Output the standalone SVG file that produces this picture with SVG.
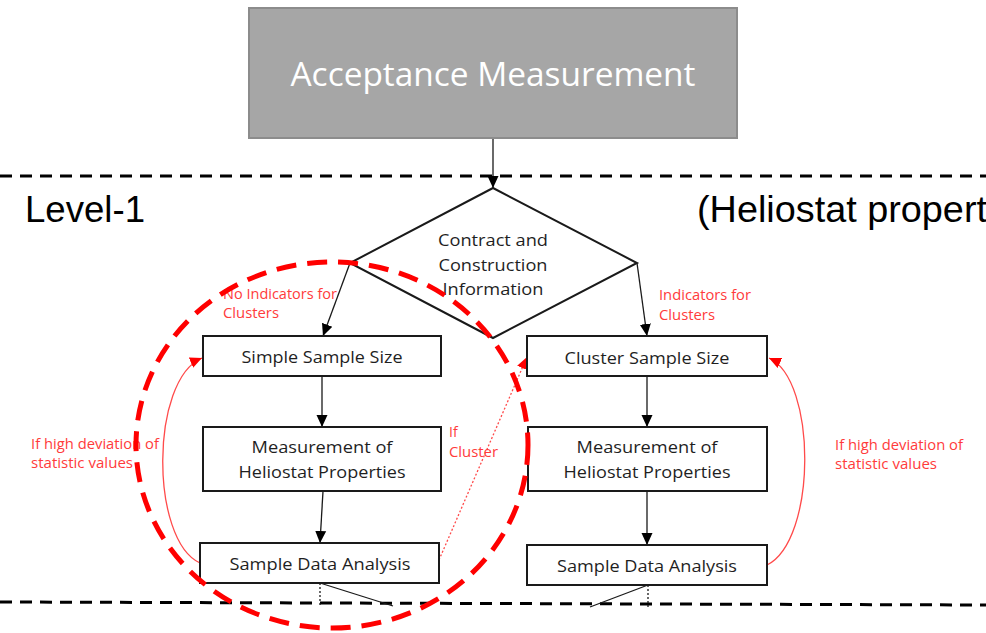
<svg xmlns="http://www.w3.org/2000/svg" width="986" height="633" viewBox="0 0 986 633">
<style>
.box{fill:#fff;stroke:#1a1a1a;stroke-width:2}
.t{font-family:"Open Sans","Noto Sans","Liberation Sans",sans-serif;font-size:17px;fill:#1f1f1f;text-anchor:middle}
.r{font-family:"Open Sans","Noto Sans","Liberation Sans",sans-serif;font-size:14px;fill:#ff3b3b}
.lvl{font-family:"Liberation Sans",Arial,sans-serif;font-size:36px;fill:#000}
.sep{stroke:#000;stroke-width:3;stroke-dasharray:12 8;fill:none}
.c{stroke:#1a1a1a;stroke-width:1.3;fill:none}
.fb{stroke:#ff4a4a;stroke-width:1.3;fill:none}
</style>
<defs>
<marker id="ab" markerUnits="userSpaceOnUse" viewBox="0 0 12 12" refX="12" refY="6" markerWidth="12" markerHeight="12" orient="auto">
<path d="M0,0.5 L12,6 L0,11.5 z" fill="#000"/>
</marker>
<marker id="ar" markerUnits="userSpaceOnUse" viewBox="0 0 12 12" refX="12" refY="6" markerWidth="12" markerHeight="12" orient="auto">
<path d="M0,0.5 L12,6 L0,11.5 z" fill="#f00"/>
</marker>
</defs>

<!-- level separators -->
<line class="sep" x1="0" y1="176" x2="986" y2="176"/>
<line class="sep" x1="0" y1="602" x2="986" y2="605"/>
<text class="lvl" x="25" y="222" textLength="120" lengthAdjust="spacingAndGlyphs">Level-1</text>
<text class="lvl" x="697" y="222" textLength="290" lengthAdjust="spacingAndGlyphs">(Heliostat propert</text>

<g id="connectors">
<line class="c" x1="493" y1="138" x2="493" y2="188" marker-end="url(#ab)"/>
<line class="c" x1="350" y1="263" x2="323" y2="336" marker-end="url(#ab)"/>
<line class="c" x1="637" y1="263" x2="647" y2="336" marker-end="url(#ab)"/>
<line class="c" x1="322" y1="376" x2="322" y2="427" marker-end="url(#ab)"/>
<line class="c" x1="323" y1="491" x2="320" y2="543" marker-end="url(#ab)"/>
<line class="c" x1="647" y1="376" x2="647" y2="427" marker-end="url(#ab)"/>
<line class="c" x1="647" y1="491" x2="647" y2="545" marker-end="url(#ab)"/>
<line class="c" x1="320" y1="583" x2="320" y2="607" stroke-dasharray="2 2"/>
<line class="c" x1="320" y1="583" x2="393" y2="606"/>
<line class="c" x1="648" y1="585" x2="648" y2="608" stroke-dasharray="2 2"/>
<line class="c" x1="648" y1="585" x2="590" y2="607"/>
<path class="fb" d="M200,563 C150,540 150,380 202,358" marker-end="url(#ar)"/>
<path class="fb" d="M767,565 C817,540 817,380 769,358" marker-end="url(#ar)"/>
<line class="fb" x1="439" y1="560" x2="527" y2="357" stroke-dasharray="2 2" stroke-width="1" marker-end="url(#ar)"/>
</g>

<g id="acceptance">
<rect x="249" y="8" width="488" height="130" fill="#a6a6a6" stroke="#8c8c8c" stroke-width="2"/>
<text x="493" y="86" font-family="'Open Sans','Noto Sans',sans-serif" font-size="33" fill="#fff" text-anchor="middle" textLength="405" lengthAdjust="spacingAndGlyphs">Acceptance Measurement</text>
</g>

<g id="decision">
<polygon points="493,188 637,263 493,338 350,263" fill="#fff" stroke="#1a1a1a" stroke-width="2"/>
<text class="t" x="493" y="246" textLength="110" lengthAdjust="spacingAndGlyphs">Contract and</text>
<text class="t" x="493" y="271" textLength="109" lengthAdjust="spacingAndGlyphs">Construction</text>
<text class="t" x="493" y="295" textLength="101" lengthAdjust="spacingAndGlyphs">Information</text>
</g>

<g id="simple-sample">
<rect class="box" x="203" y="336" width="238" height="40"/>
<text class="t" x="322" y="363" textLength="161" lengthAdjust="spacingAndGlyphs">Simple Sample Size</text>
</g>
<g id="cluster-sample">
<rect class="box" x="527" y="336" width="240" height="40"/>
<text class="t" x="647" y="364" textLength="165" lengthAdjust="spacingAndGlyphs">Cluster Sample Size</text>
</g>
<g id="measure-left">
<rect class="box" x="203" y="427" width="238" height="64"/>
<text class="t" x="322" y="453" textLength="141" lengthAdjust="spacingAndGlyphs">Measurement of</text>
<text class="t" x="322" y="478" textLength="167" lengthAdjust="spacingAndGlyphs">Heliostat Properties</text>
</g>
<g id="measure-right">
<rect class="box" x="528" y="427" width="239" height="64"/>
<text class="t" x="647" y="453" textLength="141" lengthAdjust="spacingAndGlyphs">Measurement of</text>
<text class="t" x="647" y="478" textLength="167" lengthAdjust="spacingAndGlyphs">Heliostat Properties</text>
</g>
<g id="analysis-left">
<rect class="box" x="200" y="543" width="239" height="40"/>
<text class="t" x="320" y="570" textLength="181" lengthAdjust="spacingAndGlyphs">Sample Data Analysis</text>
</g>
<g id="analysis-right">
<rect class="box" x="527" y="545" width="240" height="40"/>
<text class="t" x="647" y="572" textLength="180" lengthAdjust="spacingAndGlyphs">Sample Data Analysis</text>
</g>

<g id="labels">
<text class="r" x="223" y="299" textLength="114" lengthAdjust="spacingAndGlyphs">No Indicators for</text>
<text class="r" x="223" y="318" textLength="56" lengthAdjust="spacingAndGlyphs">Clusters</text>
<text class="r" x="659" y="300" textLength="92" lengthAdjust="spacingAndGlyphs">Indicators for</text>
<text class="r" x="659" y="320" textLength="56" lengthAdjust="spacingAndGlyphs">Clusters</text>
<text class="r" x="31" y="449" textLength="128" lengthAdjust="spacingAndGlyphs">If high deviation of</text>
<text class="r" x="31" y="468" textLength="102" lengthAdjust="spacingAndGlyphs">statistic values</text>
<text class="r" x="835" y="450" textLength="128" lengthAdjust="spacingAndGlyphs">If high deviation of</text>
<text class="r" x="835" y="469" textLength="102" lengthAdjust="spacingAndGlyphs">statistic values</text>
<text class="r" x="449" y="437">If</text>
<text class="r" x="449" y="457" textLength="49" lengthAdjust="spacingAndGlyphs">Cluster</text>
</g>

<ellipse id="highlight" cx="332" cy="445" rx="196" ry="183" fill="none" stroke="#f00" stroke-width="5" stroke-dasharray="20 11"/>
</svg>
